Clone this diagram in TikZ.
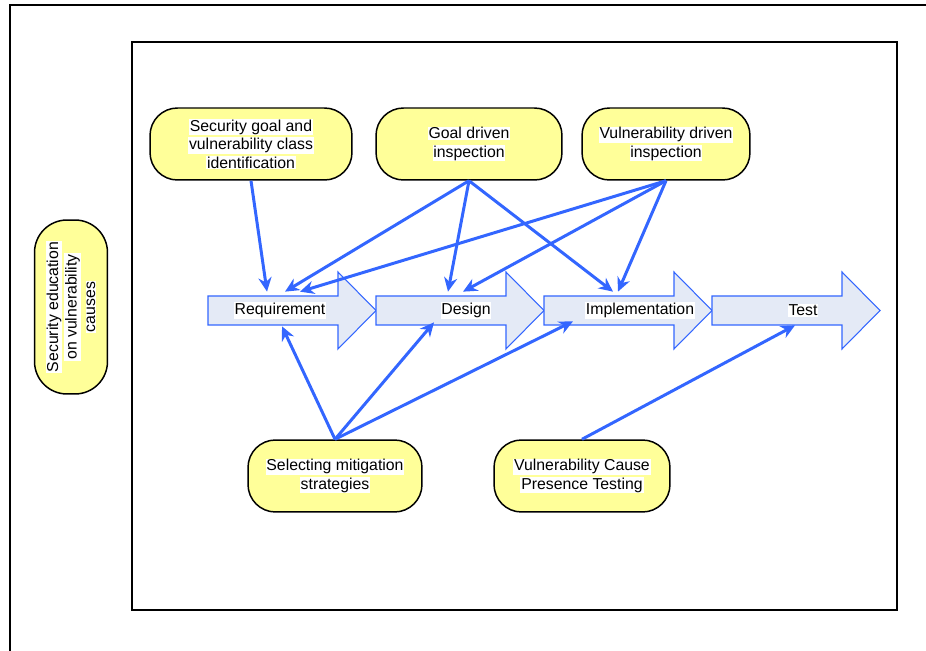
\documentclass[tikz,border=0pt]{standalone}
\usepackage{fontspec}
\setmainfont{Liberation Sans}
\usetikzlibrary{arrows.meta,calc}
\definecolor{linkblue}{HTML}{3366FF}
\definecolor{stagefill}{HTML}{E4EAF6}
\definecolor{notefill}{HTML}{FFFF99}
\newcommand{\whitebg}[1]{\colorbox{white}{#1}}
\setlength{\fboxsep}{0.5pt}
\tikzset{
  frame/.style={line width=0.8pt},
  note/.style={draw, line width=0.85pt, fill=notefill, rounded corners=0.55cm, align=center, inner sep=0pt, minimum height=1.44cm, font=\fontsize{9}{10.5}\selectfont},
  stage/.style={draw=linkblue, line width=0.6pt, fill=stagefill},
  stagelabel/.style={inner sep=0pt, minimum height=0.58cm, font=\fontsize{9}{10.5}\selectfont},
  link/.style={draw=linkblue, line width=1.7pt, -{Stealth[length=8pt,width=7.5pt]}},
}
\begin{document}
\begin{tikzpicture}[x=0.02cm, y=-0.02cm]
\useasboundingbox (0,0) rectangle (926,651);
% frames
\draw[frame] (926,5) -- (10,5) -- (10,651);
\draw[frame] (132,42) rectangle (897,610);
% life cycle stages
\foreach \lx in {208,376,544,712} {
  \draw[stage] (\lx,296) -- ++(130,0) -- ++(0,-24) -- ++(38,38.5) -- ++(-38,38.5) -- ++(0,-24) -- ++(-130,0) -- cycle;
}
\node[stagelabel] (req) at (280,310.5) {\whitebg{Requirement}};
\node[stagelabel] (des) at (466,310.5) {\whitebg{Design}};
\node[stagelabel] (imp) at (640,310.5) {\whitebg{Implementation}};
\node[stagelabel] (tst) at (803,310.5) {\whitebg{Test}};
% activities
\node[note, minimum width=4.04cm] (sgi) at (251,144) {\whitebg{Security goal and}\\ \whitebg{vulnerability class}\\ \whitebg{identification}};
\node[note, minimum width=3.72cm] (gdi) at (469,144) {\whitebg{Goal driven}\\ \whitebg{inspection}};
\node[note, minimum width=3.36cm] (vdi) at (666,144) {\whitebg{Vulnerability driven}\\ \whitebg{inspection}};
\node[note, minimum width=3.48cm, minimum height=1.46cm, rotate=90, rounded corners=0.65cm] (edu) at (71,307) {\whitebg{Security education}\\ \whitebg{on vulnerability}\\ \whitebg{causes}};
\node[note, minimum width=3.48cm] (sms) at (335,476) {\whitebg{Selecting mitigation}\\ \whitebg{strategies}};
\node[note, minimum width=3.52cm] (vcp) at (582,476) {\whitebg{Vulnerability Cause}\\ \whitebg{Presence Testing}};
% connectors
\draw[link] (sgi.south) -- ($(req.north)+(-13,-4)$);
\draw[link] (gdi.south) -- ($(req.north)+(5,-4)$);
\draw[link] (gdi.south) -- ($(des.north)+(-18,-4)$);
\draw[link] (gdi.south) -- ($(imp.north)+(-27,-4)$);
\draw[link] (vdi.south) -- ($(req.north)+(20,-4)$);
\draw[link] (vdi.south) -- ($(des.north)+(-3,-4)$);
\draw[link] (vdi.south) -- ($(imp.north)+(-22,-4)$);
\draw[link] (sms.north) -- ($(req.south)+(2,1)$);
\draw[link] (sms.north) -- ($(des.south)+(-32,-3)$);
\draw[link] (sms.north) -- ($(imp.south)+(-67,-4)$);
\draw[link] (vcp.north) -- ($(tst.south)+(-8,0)$);
\end{tikzpicture}
\end{document}
